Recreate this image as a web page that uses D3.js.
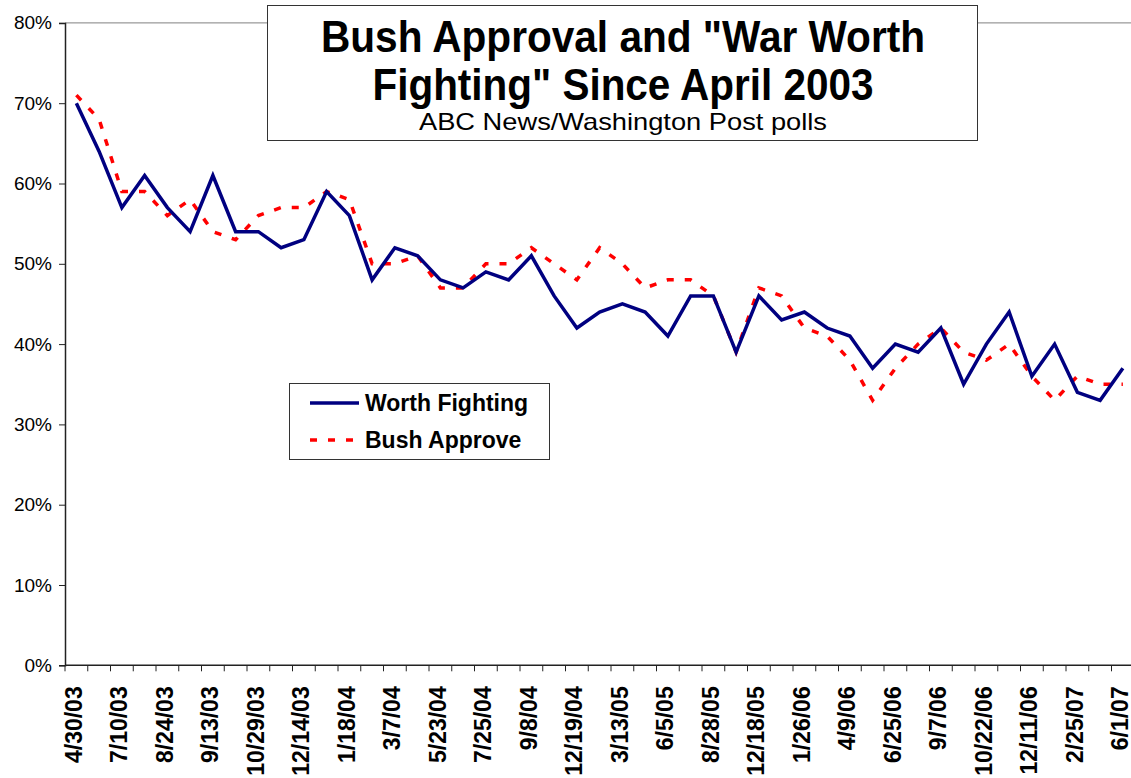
<html>
    <head>
        <title>Bush Approval and War Worth Fighting</title>
        <style>
            body { margin: 0; background: #fff; }
            text { font-family: Arial, "Liberation Sans", sans-serif; }
        </style>
    </head>
    <body>
        <script src="https://d3js.org/d3.v7.min.js"></script>
        <script>
        // ABC News/Washington Post polls, 47 polls, every other one labelled
        var tickLabels = ["4/30/03","7/10/03","8/24/03","9/13/03","10/29/03","12/14/03","1/18/04","3/7/04",
                          "5/23/04","7/25/04","9/8/04","12/19/04","3/13/05","6/5/05","8/28/05","12/18/05",
                          "1/26/06","4/9/06","6/25/06","9/7/06","10/22/06","12/11/06","2/25/07","6/1/07"];
        var worthFighting = [70,64,57,61,57,54,61,54,54,52,53,59,56,48,52,51,48,47,49,48,51,46,42,44,
                             45,44,41,46,46,39,46,43,44,42,41,37,40,39,42,35,40,44,36,40,34,33,37];
        var bushApprove = [71,68,59,59,56,58,54,53,56,57,57,59,58,50,50,51,47,47,50,50,52,50,48,52,
                           50,47,48,48,46,39,47,46,42,41,38,33,37,40,42,39,38,40,36,33,36,35,35];
        var yTicks = [0,10,20,30,40,50,60,70,80];

        var width = 1131;
        var high = 778;
        var margin = {"top":22.9,"left":65,"bottom":112.7}; // plot area runs past the right edge
        var n = worthFighting.length;
        var band = 22.75;

        var svg = d3.select("body").append("svg").attr("width",width).attr("height",high);

        var xScale = d3.scaleBand()
            .domain(d3.range(n))
            .range([margin.left, margin.left + n*band])
            .padding(0);
        var yScale = d3.scaleLinear()
            .domain([0,80])
            .range([high - margin.bottom, margin.top]);
        function cx(i){ return xScale(i) + xScale.bandwidth()/2; }

        // top border of plot
        svg.append("line")
            .attr("x1",margin.left).attr("x2",width)
            .attr("y1",yScale(80)).attr("y2",yScale(80))
            .attr("stroke","#808080").attr("stroke-width",1);

        // y axis
        var yAxis = d3.axisLeft(yScale).tickValues(yTicks).tickSize(6).tickFormat(function(d){ return d + "%"; });
        var gy = svg.append("g").attr("transform","translate(" + margin.left + ",0)").call(yAxis);
        gy.select(".domain").attr("stroke","#222").attr("stroke-width",1.5);
        gy.selectAll(".tick line").attr("stroke","#222");
        gy.selectAll(".tick text")
            .attr("x",-13)
            .attr("font-size","19px")
            .attr("font-family","Arial, 'Liberation Sans', sans-serif")
            .attr("fill","#000");

        // x axis: ticks on band boundaries
        var x0 = yScale(0);
        svg.append("line")
            .attr("x1",margin.left).attr("x2",width)
            .attr("y1",x0).attr("y2",x0)
            .attr("stroke","#222").attr("stroke-width",1.5);
        svg.append("g")
            .selectAll("line")
            .data(d3.range(n+1))
            .enter()
            .append("line")
            .attr("x1",function(d){ return margin.left + d*xScale.step(); })
            .attr("x2",function(d){ return margin.left + d*xScale.step(); })
            .attr("y1",x0).attr("y2",x0 + 6)
            .attr("stroke","#222");
        svg.append("g")
            .selectAll("text")
            .data(tickLabels)
            .enter()
            .append("text")
            .attr("transform",function(d,i){ return "translate(" + (cx(i*2) + 5.5) + "," + (x0 + 21) + ") rotate(-90)"; })
            .attr("text-anchor","end")
            .attr("font-size","23px")
            .attr("font-weight","bold")
            .text(function(d){ return d; });

        // lines
        var line = d3.line()
            .x(function(d,i){ return cx(i); })
            .y(function(d){ return yScale(d); });
        svg.append("path")
            .datum(bushApprove)
            .attr("d",line)
            .attr("fill","none")
            .attr("stroke","#ff0000")
            .attr("stroke-width",3.5)
            .attr("stroke-dasharray","7,11");
        svg.append("path")
            .datum(worthFighting)
            .attr("d",line)
            .attr("fill","none")
            .attr("stroke","#000080")
            .attr("stroke-width",3.5)
            .attr("stroke-linejoin","miter");

        // title box
        svg.append("rect")
            .attr("x",267.5).attr("y",5.5).attr("width",710).attr("height",135)
            .attr("fill","#fff").attr("stroke","#333").attr("stroke-width",1);
        var titleLines = ['Bush Approval and "War Worth', 'Fighting" Since April 2003'];
        var titleWidths = [604, 501];
        svg.append("g")
            .selectAll("text")
            .data(titleLines)
            .enter()
            .append("text")
            .attr("x",623)
            .attr("y",function(d,i){ return 52 + i*48; })
            .attr("text-anchor","middle")
            .attr("font-size","45px")
            .attr("font-weight","bold")
            .attr("textLength",function(d,i){ return titleWidths[i]; })
            .attr("lengthAdjust","spacingAndGlyphs")
            .text(function(d){ return d; });
        svg.append("text")
            .attr("x",623).attr("y",130)
            .attr("text-anchor","middle")
            .attr("font-size","24px")
            .attr("textLength",408)
            .attr("lengthAdjust","spacingAndGlyphs")
            .text("ABC News/Washington Post polls");

        // legend
        var legendNames = ["Worth Fighting","Bush Approve"];
        var legendColors = ["#000080","#ff0000"];
        var legendDash = [null,"7,11"];
        svg.append("rect")
            .attr("x",289.5).attr("y",383.5).attr("width",260).attr("height",76)
            .attr("fill","#fff").attr("stroke","#333").attr("stroke-width",1);
        var lg = svg.append("g")
            .selectAll("g")
            .data(legendNames)
            .enter()
            .append("g")
            .attr("transform",function(d,i){ return "translate(0," + (403 + i*37) + ")"; });
        lg.append("line")
            .attr("x1",310).attr("x2",359).attr("y1",0).attr("y2",0)
            .attr("stroke",function(d,i){ return legendColors[i]; })
            .attr("stroke-width",3.5)
            .attr("stroke-dasharray",function(d,i){ return legendDash[i]; });
        lg.append("text")
            .attr("x",365).attr("y",8)
            .attr("font-size","23px")
            .attr("font-weight","bold")
            .text(function(d){ return d; });
        </script>
    </body>
</html>
